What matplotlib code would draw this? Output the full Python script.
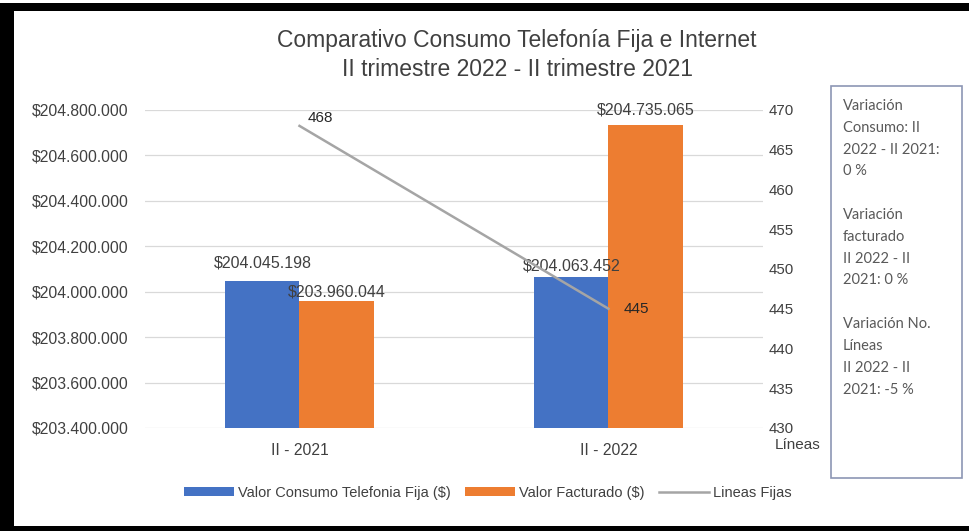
import matplotlib
matplotlib.use("Agg")
import matplotlib.pyplot as plt
import matplotlib.patches as mpatches
import numpy as np

periodos = ["II - 2021", "II - 2022"]
consumo = [204045198, 204063452]
facturado = [203960044, 204735065]
lineas = [468, 445]

left_ticks = [203400000, 203600000, 203800000, 204000000, 204200000,
              204400000, 204600000, 204800000]
right_ticks = [430, 435, 440, 445, 450, 455, 460, 465, 470]

nota = ("Variación\nConsumo: II\n2022 - II 2021:\n0 %\n\n"
        "Variación\nfacturado\nII 2022 - II\n2021: 0 %\n\n"
        "Variación No.\nLíneas\nII 2022 - II\n2021: -5 %")

azul = "#4472C4"
naranja = "#ED7D31"
gris = "#A5A5A5"
texto = "#404040"

plt.rcParams["font.family"] = ["Liberation Sans", "DejaVu Sans"]

def pesos(v):
    return "$" + f"{v:,.0f}".replace(",", ".")

fig = plt.figure(figsize=(9.7, 5.31), dpi=100)
ax = fig.add_axes([145/970, 1-428/531, 618/970, 318/531])
ax2 = ax.twinx()

x = np.arange(len(periodos))
w = 0.24
b1 = ax.bar(x - w/2, consumo, w, color=azul, label="Valor Consumo Telefonia Fija ($)", zorder=2)
b2 = ax.bar(x + w/2, facturado, w, color=naranja, label="Valor Facturado ($)", zorder=2)

ax.set_ylim(203400000, 204800000)
ax.set_xlim(-0.5, 1.5)
ax.set_yticks(left_ticks)
ax.set_yticklabels([pesos(v) for v in left_ticks])
ax.set_xticks(x)
ax.set_xticklabels(periodos)
ax.grid(axis="y", color="#D9D9D9", lw=0.9, zorder=0)
ax.set_axisbelow(True)
ax.tick_params(length=0, labelsize=11.3, labelcolor=texto)
ax.tick_params(axis="y", pad=12)
ax.tick_params(axis="x", pad=11)
for s in ax.spines.values():
    s.set_visible(False)

# etiquetas de las barras
off_consumo = [8, 3]
off_fact = [1, 5]
for i in range(len(periodos)):
    ax.annotate(pesos(consumo[i]), (x[i] - w/2, consumo[i]), xytext=(0, off_consumo[i]),
                textcoords="offset points", ha="center", va="bottom",
                fontsize=11.5, color=texto, zorder=5)
    ax.annotate(pesos(facturado[i]), (x[i] + w/2, facturado[i]), xytext=(0, off_fact[i]),
                textcoords="offset points", ha="center", va="bottom",
                fontsize=11.5, color=texto, zorder=5)

ln, = ax2.plot(x, lineas, color=gris, lw=1.8, label="Lineas Fijas", zorder=3)
ax2.set_ylim(430, 470)
ax2.set_yticks(right_ticks)
ax2.tick_params(length=0, labelsize=10.8, labelcolor=texto, pad=4)
for s in ax2.spines.values():
    s.set_visible(False)
line_off = [(6, 6), (11, 0)]
for i in range(len(lineas)):
    ax2.annotate(str(lineas[i]), (x[i], lineas[i]), xytext=line_off[i],
                 textcoords="offset points", ha="left", va="center",
                 fontsize=11, color="#262626")
ax2.text(1.019, -0.055, "Líneas", transform=ax2.transAxes, ha="left", va="center",
         fontsize=11, color=texto)

fig.text(0.533, 1-55/531, "Comparativo Consumo Telefonía Fija e Internet\nII trimestre 2022 - II trimestre 2021",
         ha="center", va="center", fontsize=16.5, color=texto, linespacing=1.3)

fig.legend(handles=[b1, b2, ln], loc="center", bbox_to_anchor=(0.503, 1-493/531),
           ncol=3, frameon=False, fontsize=10.5, handlelength=3.4, handleheight=0.55,
           columnspacing=1.0, handletextpad=0.3, labelcolor=texto)

# recuadro con las variaciones
fig.add_artist(mpatches.Rectangle((831/970, 1-478/531), 131/970, 392/531,
                                  transform=fig.transFigure, fill=False,
                                  edgecolor="#8C96B4", lw=1.2))
fig.text(843/970, 1-99/531, nota, ha="left", va="top", fontsize=10.5,
         color="#595959", family=["Lato", "DejaVu Sans"], linespacing=1.71)

# marco negro
fig.add_artist(mpatches.Rectangle((0, 1-11/531), 1, 8/531, transform=fig.transFigure,
                                  color="black", lw=0))
fig.add_artist(mpatches.Rectangle((0, 0), 14/970, 1-3/531, transform=fig.transFigure,
                                  color="black", lw=0))
fig.add_artist(mpatches.Rectangle((0, 0), 1, 5/531, transform=fig.transFigure,
                                  color="black", lw=0))

fig.savefig("out.png", dpi=100)
